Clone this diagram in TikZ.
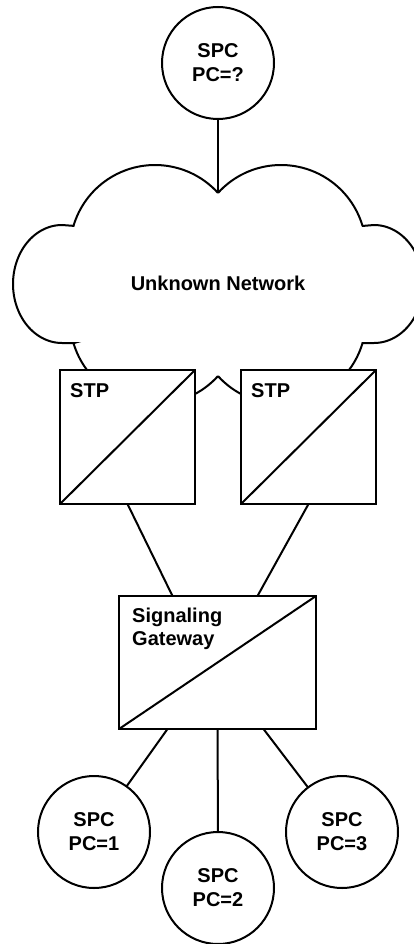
\documentclass[tikz,border=0pt]{standalone}
\usepackage{fontspec}
\setmainfont{Liberation Sans}
\begin{document}
\begin{tikzpicture}[x=1pt,y=-1pt,
 lw/.style={line width=2pt},
 spc/.style={circle,draw,lw,fill=white,minimum size=112pt,inner sep=0pt,outer sep=0pt,align=center,font=\fontsize{20}{24}\selectfont\bfseries},
 box/.style={rectangle,draw,lw,fill=white,inner sep=0pt,outer sep=0pt},
 lbl/.style={inner sep=0pt,align=left,font=\fontsize{20}{23}\selectfont\bfseries},
 link/.style={lw}]
\useasboundingbox (0,0) rectangle (414,944);
% cloud
\coordinate (cusp) at (218,192);
\draw[lw,fill=white]
  plot[domain=-42.6:-163.5,samples=50] ({155+85*cos(\x)},{250+85*sin(\x)})
  -- (62,225)
  -- plot[domain=270:90,samples=60] ({62+49*cos(\x)},{284+59*sin(\x)})
  -- (74,343)
  -- plot[domain=163.5:42.6,samples=50] ({155+85*cos(\x)},{319+85*sin(\x)})
  -- plot[domain=137.4:16.5,samples=50] ({281+85*cos(\x)},{319+85*sin(\x)})
  -- (374,343)
  -- plot[domain=90:-90,samples=60] ({374+49*cos(\x)},{284+59*sin(\x)})
  -- (362,226)
  -- plot[domain=-16.5:-137.4,samples=50] ({281+85*cos(\x)},{250+85*sin(\x)})
  -- cycle;
\node[lbl,anchor=center] (net) at (218,283) {Unknown Network};
% top SPC
\node[spc] (top) at (218,63) {SPC\\PC=?};
\draw[link] (top) -- (cusp);
% STPs
\node[box,minimum width=135pt,minimum height=134pt] (stp1) at (127.5,437) {};
\node[box,minimum width=135pt,minimum height=134pt] (stp2) at (308.5,437) {};
\draw[lw] (stp1.south west) -- (stp1.north east);
\draw[lw] (stp2.south west) -- (stp2.north east);
\node[lbl,anchor=base west] (stpl1) at (70,397) {STP};
\node[lbl,anchor=base west] (stpl2) at (251,397) {STP};
% Signaling gateway
\node[box,minimum width=197pt,minimum height=133pt] (sg) at (217.5,662.5) {};
\draw[lw] (sg.south west) -- (sg.north east);
\node[lbl,anchor=north west] (sgl) at (132,608) {Signaling\\Gateway};
\draw[link] (stp1.south) -- ([xshift=-45pt]sg.north);
\draw[link] (stp2.south) -- ([xshift=40pt]sg.north);
% bottom SPCs
\node[spc] (c1) at (94,832) {SPC\\PC=1};
\node[spc] (c2) at (218,888) {SPC\\PC=2};
\node[spc] (c3) at (342,832) {SPC\\PC=3};
\draw[link] ([xshift=-50pt]sg.south) -- (c1);
\draw[link] (sg.south) -- (c2.north);
\draw[link] ([xshift=46pt]sg.south) -- (c3);
\end{tikzpicture}
\end{document}
